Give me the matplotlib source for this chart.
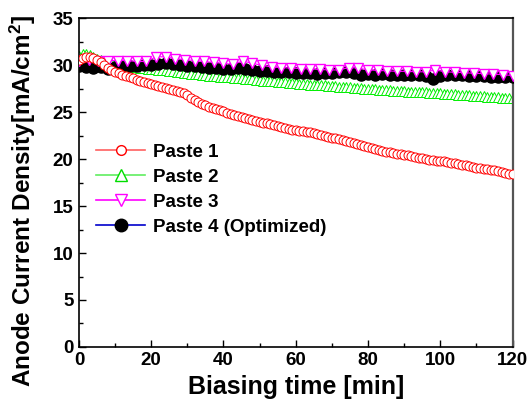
import numpy as np
import matplotlib
matplotlib.use("Agg")
import matplotlib.pyplot as plt
from matplotlib.lines import Line2D

plt.rcParams['font.family'] = ['Liberation Sans', 'DejaVu Sans']
plt.rcParams['font.weight'] = 'bold'
plt.rcParams['mathtext.fontset'] = 'custom'
plt.rcParams['mathtext.rm'] = 'Liberation Sans:bold'
plt.rcParams['mathtext.bf'] = 'Liberation Sans:bold'
plt.rcParams['mathtext.default'] = 'bf'

# ---- data ----
t_p1 = np.arange(0, 121, 1)
paste1 = [30.6, 30.8, 30.9, 30.9, 30.8, 30.6, 30.3, 30.0, 29.7, 29.5,
          29.3, 29.15, 29.0, 28.85, 28.7, 28.6, 28.45, 28.3, 28.2, 28.1,
          28.0, 27.9, 27.8, 27.7, 27.6, 27.5, 27.4, 27.3, 27.2, 27.0,
          26.8, 26.55, 26.3, 26.1, 25.9, 25.75, 25.6, 25.45, 25.3, 25.2,
          25.1, 24.95, 24.85, 24.7, 24.6, 24.5, 24.4, 24.3, 24.2, 24.1,
          24.0, 23.9, 23.8, 23.7, 23.6, 23.5, 23.4, 23.35, 23.25, 23.15,
          23.1, 23.0, 22.95, 22.9, 22.85, 22.8, 22.7, 22.6, 22.5, 22.4,
          22.3, 22.2, 22.1, 22.0, 21.9, 21.8, 21.7, 21.6, 21.5, 21.4,
          21.3, 21.2, 21.1, 21.0, 20.9, 20.8, 20.75, 20.65, 20.6, 20.5,
          20.45, 20.4, 20.3, 20.25, 20.15, 20.1, 20.05, 19.95, 19.9, 19.85,
          19.8, 19.75, 19.7, 19.6, 19.55, 19.5, 19.4, 19.35, 19.25, 19.2,
          19.1, 19.05, 19.0, 18.9, 18.85, 18.8, 18.7, 18.6, 18.55, 18.45,
          18.4]

t_p2 = np.arange(0, 121, 1)
paste2 = [31.0, 31.2, 31.2, 31.1, 30.9, 30.7, 30.55, 30.45, 30.35, 30.25,
          30.15, 30.1, 30.0, 29.95, 29.9, 29.85, 29.8, 29.75, 29.7, 29.65,
          29.6, 29.55, 29.5, 29.5, 29.45, 29.4, 29.35, 29.3, 29.25, 29.2,
          29.15, 29.1, 29.1, 29.05, 29.0, 28.95, 28.9, 28.9, 28.85, 28.8,
          28.75, 28.7, 28.7, 28.65, 28.6, 28.6, 28.55, 28.5, 28.5, 28.45,
          28.4, 28.35, 28.35, 28.3, 28.3, 28.25, 28.2, 28.2, 28.15, 28.1,
          28.1, 28.05, 28.0, 28.0, 27.95, 27.95, 27.9, 27.9, 27.85, 27.8,
          27.8, 27.75, 27.7, 27.7, 27.65, 27.65, 27.6, 27.6, 27.55, 27.5,
          27.5, 27.45, 27.45, 27.4, 27.4, 27.35, 27.35, 27.3, 27.3, 27.25,
          27.25, 27.2, 27.2, 27.15, 27.15, 27.1, 27.1, 27.05, 27.05, 27.0,
          27.0, 26.95, 26.95, 26.9, 26.9, 26.85, 26.85, 26.8, 26.8, 26.75,
          26.75, 26.7, 26.7, 26.65, 26.65, 26.6, 26.6, 26.55, 26.55, 26.5,
          26.5]

t_p3 = np.linspace(0, 120, 46)
paste3 = [30.5, 30.6, 30.5, 30.5, 30.5, 30.5, 30.4, 30.4, 30.9, 30.9,
          30.7, 30.6, 30.5, 30.4, 30.3, 30.2, 30.1, 30.45, 30.2, 30.0,
          29.8, 29.75, 29.7, 29.65, 29.6, 29.55, 29.5, 29.5, 29.75, 29.7,
          29.5, 29.45, 29.4, 29.35, 29.35, 29.3, 29.3, 29.5, 29.3, 29.25,
          29.2, 29.15, 29.1, 29.05, 29.0, 28.9]

t_p4 = np.arange(0, 121, 2)
paste4 = [29.9, 29.8, 29.7, 29.8, 29.6, 29.8, 29.9, 29.9, 29.9, 30.0,
          30.0, 30.1, 30.2, 30.1, 30.0, 29.9, 29.9, 29.8, 29.7, 29.7,
          29.6, 29.6, 29.7, 29.6, 29.5, 29.4, 29.4, 29.3, 29.3, 29.3,
          29.2, 29.2, 29.2, 29.1, 29.2, 29.2, 29.3, 29.3, 29.2, 29.0,
          29.1, 29.0, 29.1, 29.0, 29.0, 29.0, 29.0, 29.0, 28.9, 28.5,
          28.9, 29.0, 29.0, 29.0, 28.9, 28.9, 28.9, 28.8, 28.8, 28.8,
          28.7]

labels = ['Paste 1', 'Paste 2', 'Paste 3', 'Paste 4 (Optimized)']
x_ticks = [0, 20, 40, 60, 80, 100, 120]
y_ticks = [0, 5, 10, 15, 20, 25, 30, 35]

fig = plt.figure(figsize=(5.30, 4.16), dpi=100)
ax = fig.add_axes([0.149, 0.166, 0.818, 0.790])

ax.plot(t_p2, paste2, color='#00ee00', lw=0.8, marker='^', ms=7,
        mfc='white', mec='#00ee00', mew=0.7, zorder=2)
ax.plot(t_p4, paste4, color='black', lw=0.8, marker='o', ms=8,
        mfc='black', mec='black', zorder=3)
ax.plot(t_p3, paste3, color='#ff00ff', lw=0.8, marker='v', ms=6.5,
        mfc='white', mec='#ff00ff', mew=1.0, zorder=4)
ax.plot(t_p1, paste1, color='red', lw=0.8, marker='o', ms=6.5,
        mfc='white', mec='red', mew=0.7, zorder=5)

ax.set_xlim(0, 120)
ax.set_ylim(0, 35)
ax.set_xticks(x_ticks)
ax.set_yticks(y_ticks)
ax.set_xticks(np.arange(10, 120, 20), minor=True)
ax.set_yticks(np.arange(2.5, 35, 5), minor=True)
ax.tick_params(which='major', direction='in', length=5, width=1.0,
               labelsize=13.5, pad=4)
ax.tick_params(which='minor', direction='in', length=3, width=1.0)
for lab in ax.get_xticklabels() + ax.get_yticklabels():
    lab.set_fontweight('bold')
for s in ax.spines.values():
    s.set_linewidth(1.2)
ax.spines['right'].set_color('#555555')
ax.spines['right'].set_linewidth(1.6)

ax.set_xlabel('Biasing time [min]', fontsize=18, fontweight='bold', labelpad=4)
ax.set_ylabel('Anode Current Density[mA/cm$^2$]', fontsize=17.5,
              fontweight='bold')
ax.yaxis.set_label_coords(-0.094, 0.445)

handles = [
    Line2D([], [], color='#ff6060', lw=1.2, marker='o', ms=7, mfc='white', mec='red', mew=1.0),
    Line2D([], [], color='#60ee60', lw=1.2, marker='^', ms=8, mfc='white', mec='#00dd00', mew=1.0),
    Line2D([], [], color='#ff00ff', lw=1.2, marker='v', ms=8, mfc='white', mec='#ff00ff', mew=1.0),
    Line2D([], [], color='#0000cc', lw=1.2, marker='o', ms=9, mfc='black', mec='black'),
]
leg = ax.legend(handles, labels, loc='upper left', bbox_to_anchor=(0.04, 0.618),
                frameon=False, fontsize=13.5, handlelength=2.6, handletextpad=0.4,
                labelspacing=0.42, borderpad=0, borderaxespad=0)
for txt in leg.get_texts():
    txt.set_fontweight('bold')

fig.savefig('out.png', dpi=100)
